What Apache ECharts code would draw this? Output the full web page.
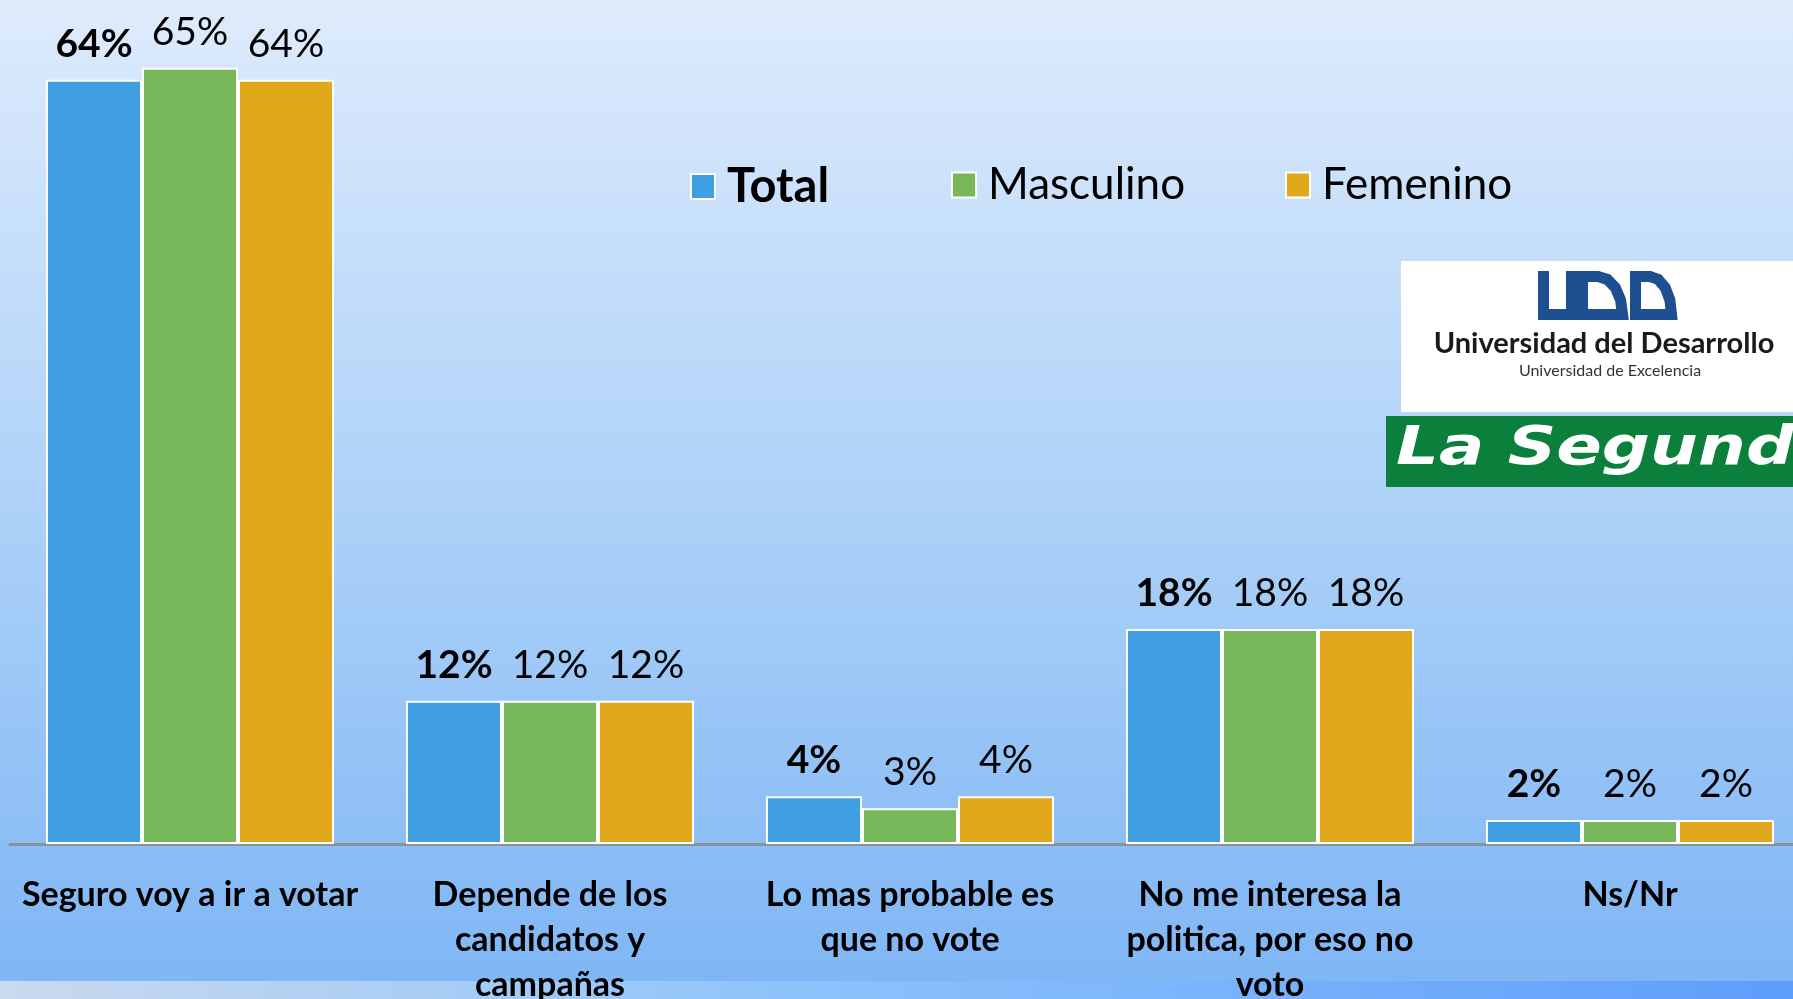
<!DOCTYPE html>
<html>
<head>
<meta charset="utf-8">
<script src="https://cdn.jsdelivr.net/npm/echarts@6/dist/echarts.min.js"></script>
<style>
  html, body { margin: 0; padding: 0; }
  #container { width: 1793px; height: 999px; }
</style>
</head>
<body>
<div id="container"></div>
<script>
var categories = ['Seguro voy a ir a votar', 'Depende de los\ncandidatos y\ncampañas', 'Lo mas probable es\nque no vote', 'No me interesa la\npolitica, por eso no\nvoto', 'Ns/Nr'];
var total = [64, 12, 4, 18, 2];
var masculino = [65, 12, 3, 18, 2];
var femenino = [64, 12, 4, 18, 2];

var dom = document.getElementById('container');
var myChart = echarts.init(dom);

function serie(name, data, color, bold) {
  return {
    name: name,
    type: 'bar',
    data: data,
    barGap: 0,
    barCategoryGap: '20%',
    itemStyle: { color: color, borderColor: '#ffffff', borderWidth: 2 },
    label: {
      show: true,
      position: 'top',
      distance: 16,
      formatter: '{c}%',
      fontFamily: 'Lato',
      fontSize: 39,
      fontWeight: bold ? 'bold' : 'normal',
      color: '#000'
    }
  };
}

function legendItem(name, left, bold) {
  return {
    data: [name],
    left: left,
    top: 158,
    itemWidth: 24,
    itemHeight: 25,
    icon: 'rect',
    itemStyle: { borderColor: '#ffffff', borderWidth: 2 },
    textStyle: { fontFamily: 'Lato', fontSize: bold ? 47 : 44, fontWeight: bold ? 'bold' : 'normal', color: '#000', padding: [0, 0, 0, 7] }
  };
}

var uddBlue = '#1d4f91';

var option = {
  backgroundColor: new echarts.graphic.LinearGradient(0, 0, 0, 1, [
    { offset: 0, color: '#deebfc' },
    { offset: 0.5, color: '#aed2f8' },
    { offset: 1, color: '#7db5f5' }
  ]),
  animation: false,
  legend: [
    legendItem('Total', 685, true),
    legendItem('Masculino', 946, false),
    legendItem('Femenino', 1280, false)
  ],
  grid: { left: 10, right: -17, top: 8, bottom: 155, containLabel: false, outerBoundsMode: 'none' },
  xAxis: {
    type: 'category',
    data: categories,
    axisLine: { lineStyle: { color: '#8c9196', width: 3 } },
    axisTick: { show: false },
    axisLabel: {
      interval: 0,
      margin: 29,
      fontFamily: 'Lato',
      fontSize: 34,
      fontWeight: 'bold',
      lineHeight: 45,
      color: '#000'
    }
  },
  yAxis: { type: 'value', min: 0, max: 70, show: false },
  graphic: [
    {
      type: 'rect', z: -1,
      shape: { x: 0, y: 981, width: 1793, height: 18 },
      style: {
        fill: new echarts.graphic.LinearGradient(0, 0, 1, 0, [
          { offset: 0, color: '#cad9ee' },
          { offset: 0.45, color: '#8cc3fb' },
          { offset: 1, color: '#5f9dfb' }
        ])
      }
    },
    // logo UDD
    { type: 'rect', shape: { x: 1401, y: 261, width: 392, height: 151 }, style: { fill: '#ffffff' } },
    { type: 'polyline', shape: { points: [[1543.5, 271], [1543.5, 314.5], [1571.5, 314.5], [1571.5, 271]] }, style: { fill: null, stroke: uddBlue, lineWidth: 11 } },
    { type: 'polygon', shape: { points: [[1582.5, 276.5], [1598, 276.5], [1607.4, 279.4], [1615.3, 287.6], [1620.6, 300], [1622.5, 314.5], [1582.5, 314.5]] }, style: { fill: null, stroke: uddBlue, lineWidth: 11 } },
    { type: 'polygon', shape: { points: [[1635.5, 276.5], [1650, 276.5], [1658.2, 279.4], [1665.2, 287.6], [1669.9, 300], [1671.5, 314.5], [1635.5, 314.5]] }, style: { fill: null, stroke: uddBlue, lineWidth: 11 } },
    { type: 'text', x: 1604, y: 344, style: { text: 'Universidad del Desarrollo', fontFamily: 'Lato', fontSize: 29, fontWeight: 'bold', fill: '#1a1a1a', align: 'center', verticalAlign: 'middle' } },
    { type: 'text', x: 1610, y: 371, style: { text: 'Universidad de Excelencia', fontFamily: 'Lato', fontSize: 16, fill: '#333', align: 'center', verticalAlign: 'middle' } },
    // logo La Segunda
    { type: 'rect', shape: { x: 1386, y: 416, width: 407, height: 71 }, style: { fill: '#0b7f3c' } },
    { type: 'text', x: 1396, y: 450, scaleX: 1.27, style: { text: 'La Segunda', fontFamily: 'DejaVu Sans', fontSize: 53, fontWeight: 'bold', fontStyle: 'italic', fill: '#ffffff', verticalAlign: 'middle' } }
  ],
  series: [
    serie('Total', total, '#409fe2', true),
    serie('Masculino', masculino, '#78b65a', false),
    serie('Femenino', femenino, '#e2a81c', false)
  ]
};

if (option && typeof option === 'object') {
  myChart.setOption(option, true);
}
</script>
</body>
</html>
